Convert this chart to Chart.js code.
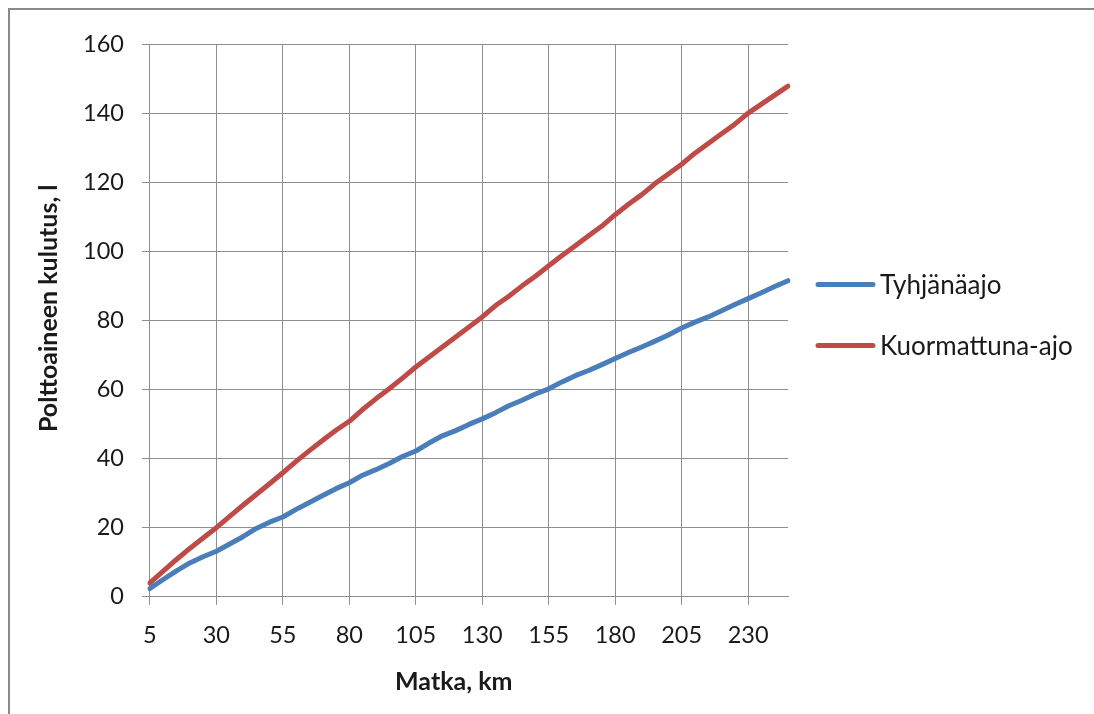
<!DOCTYPE html>
<html>
<head>
<meta charset="utf-8">
<script src="https://cdn.jsdelivr.net/npm/chart.js@4"></script>
<style>
  body { margin: 0; background: #fff; }
  #wrap { width: 1094px; height: 714px; }
</style>
</head>
<body>
<div id="wrap"><canvas id="fuelChart" width="1094" height="714"></canvas></div>
<script>
// Distance categories (km)
const distances = [5, 10, 15, 20, 25, 30, 35, 40, 45, 50, 55, 60, 65, 70, 75, 80, 85, 90, 95, 100,
  105, 110, 115, 120, 125, 130, 135, 140, 145, 150, 155, 160, 165, 170, 175, 180, 185, 190, 195, 200,
  205, 210, 215, 220, 225, 230, 235, 240, 245];

// Fuel consumption, litres
const emptyRun = [2.4, 5.0, 7.5, 9.8, 11.6, 13.2, 15.3, 17.4, 19.8, 21.6, 23.1, 25.3, 27.3, 29.3, 31.3, 33.0,
  35.2, 36.8, 38.6, 40.6, 42.2, 44.5, 46.6, 48.1, 49.9, 51.5, 53.3, 55.3, 56.9, 58.7, 60.2, 62.2, 64.0,
  65.5, 67.2, 69.0, 70.7, 72.3, 74.0, 75.8, 77.8, 79.5, 81.0, 82.8, 84.6, 86.3, 88.0, 89.8, 91.5];
const loadedRun = [4.0, 7.4, 10.8, 14.0, 17.0, 20.0, 23.3, 26.5, 29.6, 32.7, 35.9, 39.2, 42.3, 45.3, 48.2, 50.8,
  54.2, 57.3, 60.2, 63.3, 66.5, 69.4, 72.3, 75.2, 78.1, 81.0, 84.3, 87.0, 90.0, 92.8, 95.8, 98.8, 101.6,
  104.5, 107.3, 110.6, 113.6, 116.4, 119.6, 122.4, 125.2, 128.4, 131.2, 134.0, 136.8, 140.0, 142.6, 145.2, 147.8];

// Labelled x ticks (with gridlines)
const xTickLabels = [5, 30, 55, 80, 105, 130, 155, 180, 205, 230];

const gridColor = '#8e8e8e';
const textColor = '#1a1a1a';
const fontFamily = 'Lato, "Open Sans", sans-serif';
const nbsp = '\u00a0';

// grey frame on the top and left edge
const framePlugin = {
  id: 'frame',
  afterDraw(chart) {
    const ctx = chart.ctx;
    ctx.save();
    ctx.strokeStyle = '#8a8a8a';
    ctx.lineWidth = 2;
    ctx.beginPath();
    ctx.moveTo(9, chart.height);
    ctx.lineTo(9, 9);
    ctx.lineTo(chart.width, 9);
    ctx.stroke();
    ctx.restore();
  }
};

// Excel-like legend to the right of the plot (the built-in one gets cut off)
const sideLegend = {
  id: 'sideLegend',
  afterDraw(chart) {
    const {ctx, chartArea} = chart;
    const midY = (chartArea.top + chartArea.bottom) / 2;
    const rowGap = 61;
    const x0 = chartArea.right + 30;
    ctx.save();
    ctx.font = '26px ' + fontFamily;
    ctx.textBaseline = 'middle';
    ctx.textAlign = 'left';
    chart.data.datasets.forEach((ds, i) => {
      const y = midY - 36 + i * rowGap;
      ctx.strokeStyle = ds.borderColor;
      ctx.lineWidth = 5;
      ctx.lineCap = 'round';
      ctx.beginPath();
      ctx.moveTo(x0, y);
      ctx.lineTo(x0 + 55, y);
      ctx.stroke();
      ctx.fillStyle = textColor;
      ctx.fillText(ds.label, x0 + 62, y + 1);
    });
    ctx.restore();
  }
};

const isLabelled = (index) => xTickLabels.includes(distances[index]);

function drawChart() {
  new Chart(document.getElementById('fuelChart'), {
    type: 'line',
    data: {
      labels: distances,
      datasets: [{
        label: 'Tyhjänäajo',
        data: emptyRun,
        borderColor: '#4a7ebb',
        backgroundColor: '#4a7ebb',
        borderWidth: 5,
        borderCapStyle: 'round',
        borderJoinStyle: 'round',
        pointRadius: 0,
        tension: 0
      }, {
        label: 'Kuormattuna-ajo',
        data: loadedRun,
        borderColor: '#be4b48',
        backgroundColor: '#be4b48',
        borderWidth: 5,
        borderCapStyle: 'round',
        borderJoinStyle: 'round',
        pointRadius: 0,
        tension: 0
      }]
    },
    options: {
      responsive: false,
      animation: false,
      layout: {
        padding: { top: 44, right: 306, bottom: 3, left: 12 }
      },
      plugins: {
        tooltip: { enabled: false },
        legend: { display: false }
      },
      scales: {
        x: {
          type: 'category',
          offset: false,
          grid: {
            color: (c) => isLabelled(c.index) ? gridColor : 'rgba(0,0,0,0)',
            tickColor: (c) => isLabelled(c.index) ? gridColor : 'rgba(0,0,0,0)',
            tickLength: 8,
            lineWidth: 1
          },
          border: { display: true, color: gridColor },
          ticks: {
            autoSkip: false,
            maxRotation: 0,
            padding: 17,
            color: textColor,
            font: { family: fontFamily, size: 23.5, lineHeight: 1.2 },
            callback: function (value, index) {
              return isLabelled(index) ? String(distances[index]) : '';
            }
          },
          title: {
            display: true,
            // trailing spaces move the centred title a bit left, as in the original
            text: 'Matka, km' + nbsp.repeat(5),
            color: textColor,
            font: { family: fontFamily, size: 25, weight: 'bold', lineHeight: 1.2 },
            padding: { top: 0, bottom: 14 }
          }
        },
        y: {
          min: 0,
          max: 160,
          grid: {
            color: gridColor,
            tickColor: gridColor,
            tickLength: 8,
            lineWidth: 1
          },
          border: { display: true, color: gridColor },
          ticks: {
            stepSize: 20,
            padding: 18,
            color: textColor,
            font: { family: fontFamily, size: 23.5 }
          },
          title: {
            display: true,
            text: nbsp.repeat(4) + 'Polttoaineen kulutus, l',
            color: textColor,
            font: { family: fontFamily, size: 25, weight: 'bold', lineHeight: 1.2 },
            padding: { top: 22, bottom: 1 }
          }
        }
      }
    },
    plugins: [framePlugin, sideLegend]
  });
}

// wait for the installed fonts so text is measured right
Promise.all([
  document.fonts.load('23.5px Lato'),
  document.fonts.load('bold 25px Lato'),
  document.fonts.load('26px Lato')
]).then(drawChart, drawChart);
</script>
</body>
</html>
